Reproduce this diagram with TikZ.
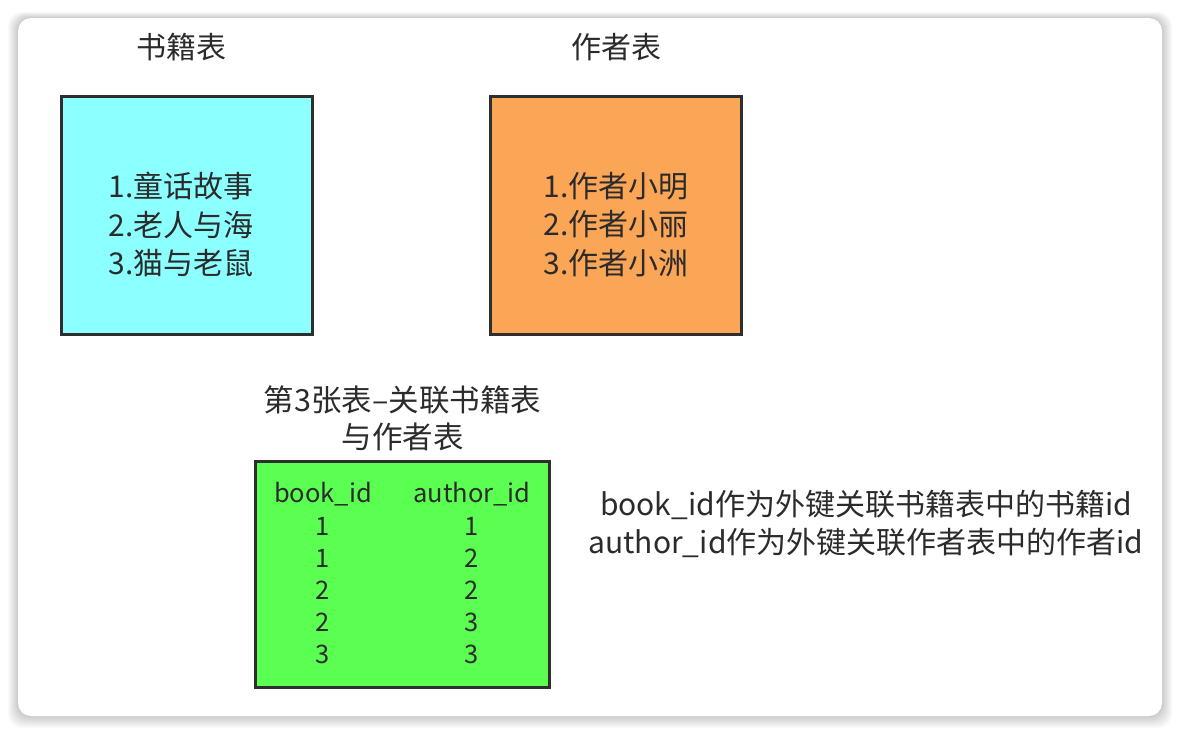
\documentclass[tikz,border=0pt]{standalone}
\usepackage{fontspec}
\setmainfont{Noto Sans CJK SC}
\definecolor{txt}{HTML}{2B2B2B}
\definecolor{cyanfill}{HTML}{8CFFFF}
\definecolor{orangefill}{HTML}{FBA557}
\definecolor{greenfill}{HTML}{5BFF52}
\definecolor{edge}{HTML}{2E2E2E}
\begin{document}
\begin{tikzpicture}[x=1pt,y=-1pt,
  tbl/.style={draw=edge, line width=3pt, inner sep=0pt},
  label/.style={text=txt, align=center, inner sep=0pt, font=\fontsize{30}{38.5}\selectfont},
  cell/.style={text=txt, align=center, inner sep=0pt, font=\fontsize{25.5}{32.2}\selectfont}]
\useasboundingbox (0,0) rectangle (1180,734);
\fill[white] (0,0) rectangle (1180,734);
% card shadow
\foreach \i in {1,...,10}{
  \fill[black, opacity=0.018, rounded corners=14pt] (18-\i,18-\i*0.6) rectangle (1162+\i,716+\i*1.2);
}
\fill[white, rounded corners=13pt] (18,18) rectangle (1162,716);
% boxes
\node[tbl, fill=cyanfill, minimum width=251pt, minimum height=238pt] (books) at (187,215.5) {};
\node[tbl, fill=orangefill, minimum width=251pt, minimum height=238pt] (authors) at (616,215.5) {};
\node[tbl, fill=greenfill, minimum width=294pt, minimum height=226pt] (link) at (402.5,574.5) {};
% titles
\node[label] (booksT) at (181,47) {书籍表};
\node[label] (authorsT) at (616,47) {作者表};
\node[label, font=\fontsize{30.5}{37}\selectfont] (linkT) at (402.5,418.5) {第3张表–关联书籍表\\与作者表};
% contents
\node[label] (booksC) at (181,224.5) {1.童话故事\\2.老人与海\\3.猫与老鼠};
\node[label] (authorsC) at (616,224.5) {1.作者小明\\2.作者小丽\\3.作者小洲};
\node[cell] (colA) at (323,573.5) {book\_id\\1\\1\\2\\2\\3};
\node[cell] (colB) at (472,573.5) {author\_id\\1\\2\\2\\3\\3};
\node[label] (note) at (866,524) {book\_id作为外键关联书籍表中的书籍id\\author\_id作为外键关联作者表中的作者id};
\end{tikzpicture}
\end{document}
